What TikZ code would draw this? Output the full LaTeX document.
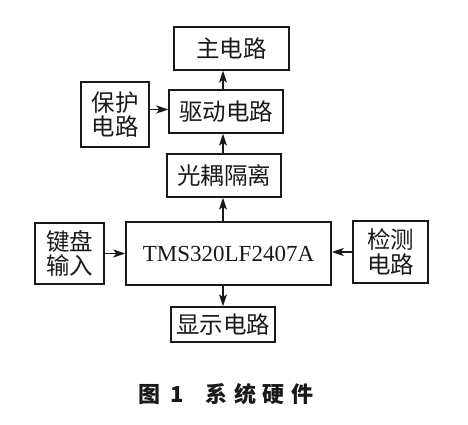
\documentclass[tikz,border=0pt]{standalone}
\usepackage{fontspec}
\usepackage{tikz}
\usetikzlibrary{arrows.meta, positioning}
\newfontfamily\cjk{Noto Sans CJK SC}
\newfontfamily\capfont{Noto Sans CJK SC}[LetterSpace=30]
\newfontfamily\tmsfont{Liberation Serif}
\definecolor{ink}{RGB}{25,25,25}
\tikzset{
  blk/.style={rectangle, draw=ink, line width=1.5pt, inner sep=0pt,
    align=center, font=\cjk\fontsize{23.5}{24.5}\selectfont, text=ink},
  arrow/.style={-{Stealth[length=12pt, width=8pt, inset=3pt]}, line width=1.4pt, color=ink}
}
\begin{document}
\begin{tikzpicture}[x=1pt, y=1pt]
  \useasboundingbox (0,0) rectangle (468,425);

  % boxes
  \node[blk, minimum width=115, minimum height=43] (main) at (231.5,376.5) {主电路};
  \node[blk, minimum width=114, minimum height=43] (drv) at (226,313.5) {驱动电路};
  \node[blk, minimum width=68, minimum height=65] (prot) at (115,310.5) {保护\\电路};
  \node[blk, minimum width=114, minimum height=43] (iso) at (224,249.5) {光耦隔离};
  \node[blk, minimum width=69, minimum height=61] (key) at (69.5,171.5) {键盘\\输入};
  \node[blk, minimum width=205, minimum height=63,
    font=\tmsfont\fontsize{23}{26}\selectfont] (dsp) at (228.5,171.5) {TMS320LF2407A};
  \node[blk, minimum width=75, minimum height=62] (det) at (390.5,173) {检测\\电路};
  \node[blk, minimum width=104, minimum height=35] (disp) at (223,100.5) {显示电路};

  % connectors
  \draw[arrow] (dsp.north -| disp) -- (iso.south -| disp);
  \draw[arrow] (iso.north -| disp) -- (drv.south -| disp);
  \draw[arrow] (drv.north -| disp) -- (main.south -| disp);
  \draw[arrow] (prot.east) ++(0,5) coordinate (pe) -- (pe -| drv.west);
  \draw[arrow] (key.east) -- (key.east -| dsp.west);
  \draw[arrow] (det.west) -- (det.west -| dsp.east);
  \draw[arrow] (dsp.south -| disp) -- (disp.north);

  % caption
  \node[font=\capfont\bfseries\fontsize{22}{24}\selectfont, text=ink] (cap) at (226,31) {图\hspace{10pt}1\hspace{22pt}系统硬件};
\end{tikzpicture}
\end{document}
